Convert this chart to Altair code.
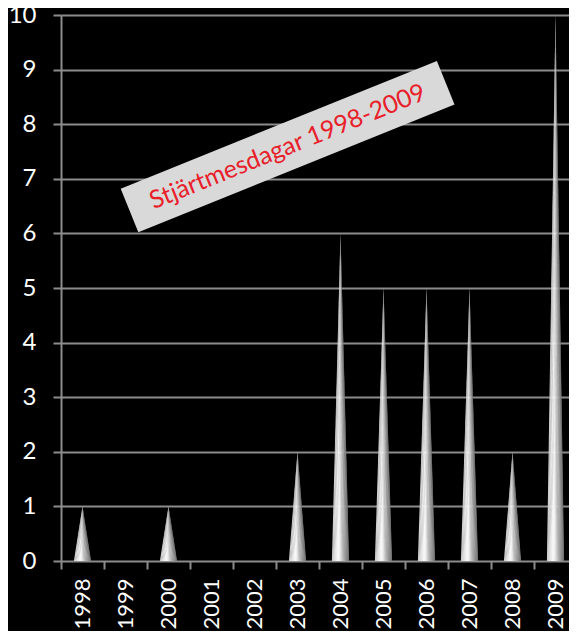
import altair as alt
import pandas as pd

# ---- data ----
years = ["1998", "1999", "2000", "2001", "2002", "2003",
         "2004", "2005", "2006", "2007", "2008", "2009"]
counts = [1, 0, 1, 0, 0, 2, 6, 5, 5, 5, 2, 10]
title_text = "Stjärtmesdagar 1998-2009"
title_pos = [4.77]     # x (category index units)
title_val = [7.59]     # y (value units)

# ---- style constants ----
GRID = "#8c8c8c"
FONT = "Lato"
HALF = 0.2          # half base width of a cone, in category units
K = 18              # shading strips per cone
OVERLAP = 0.012     # tiny overlap between strips to hide seams


def shade(t):
    # horizontal lighting of a cone: light-grey edge, bright highlight, dark-grey edge
    if t < 0.38:
        a, b, u = 0xc8, 0xfc, t / 0.38
    else:
        a, b, u = 0xfc, 0x72, (t - 0.38) / 0.62
    g = int(round(a + (b - a) * u))
    return "#%02x%02x%02x" % (g, g, g)


shade_range = [shade((j + 0.5) / K) for j in range(K)]

# ---- cones as fans of thin triangles (apex at the value, base on 0) ----
rows = []
for i, (yr, c) in enumerate(zip(years, counts)):
    if c <= 0:
        continue
    for j in range(K):
        xa = i - HALF + 2 * HALF * j / K
        xb = i - HALF + 2 * HALF * (j + 1) / K + (OVERLAP if j < K - 1 else 0)
        key = "%s-%02d" % (yr, j)
        rows.append({"key": key, "shade": j, "val": 0, "left": xa, "right": xb})
        rows.append({"key": key, "shade": j, "val": c, "left": float(i), "right": float(i)})
cones = pd.DataFrame(rows)
ann = pd.DataFrame({"left": title_pos, "val": title_val, "label": [title_text]})

x_scale = alt.Scale(domain=[-0.5, len(years) - 0.5 - 8 / 43], nice=False, zero=False)
y_scale = alt.Scale(domain=[0, 10], nice=False)

label_expr = "[" + ",".join("'%s'" % y for y in years) + "][datum.value]"

x_axis = alt.Axis(
    values=list(range(len(years))),
    labelExpr=label_expr,
    labelAngle=270,
    labelFont=FONT,
    labelFontSize=22,
    labelColor="white",
    labelPadding=9,
    tickColor=GRID,
    tickWidth=2,
    tickSize=8,
    tickOffset=-21.5,
    labelOffset=21.5,
    domain=False,
    grid=False,
    title=None,
)
y_axis = alt.Axis(
    values=list(range(0, 11)),
    labelFont=FONT,
    labelFontSize=24,
    labelColor="white",
    labelPadding=17,
    tickColor=GRID,
    tickWidth=2,
    tickSize=8,
    domainColor=GRID,
    domainWidth=2,
    grid=True,
    gridColor=GRID,
    gridWidth=2,
    title=None,
)

X = alt.X("left:Q", scale=x_scale, axis=x_axis)
Y = alt.Y("val:Q", scale=y_scale, axis=y_axis)

cone_layer = alt.Chart(cones).mark_area(orient="horizontal", interpolate="linear").encode(
    y=Y,
    x=X,
    x2="right:Q",
    detail="key:N",
    color=alt.Color("shade:O", scale=alt.Scale(domain=list(range(K)), range=shade_range), legend=None),
)

box_layer = alt.Chart(ann).mark_point(
    shape="M-1,-0.138L1,-0.138L1,0.138L-1,0.138Z",
    size=341 * 341,
    filled=True,
    fill="#d9d9d9",
    opacity=1,
    angle=338,
).encode(x=X, y=Y)

text_layer = alt.Chart(ann).mark_text(
    font=FONT,
    fontSize=25,
    color="#e8202a",
    angle=338,
    align="center",
    baseline="middle",
).encode(x=X, y=Y, text="label:N")

chart = alt.layer(cone_layer, box_layer, text_layer).properties(
    width=508,
    height=546,
    background="#000000",
    autosize=alt.AutoSizeParams(type="none"),
    padding={"left": 53, "top": 7, "right": 0, "bottom": 70},
).configure_view(stroke=None)

chart.save("out.html", embed_options={"renderer": "svg", "actions": False})
